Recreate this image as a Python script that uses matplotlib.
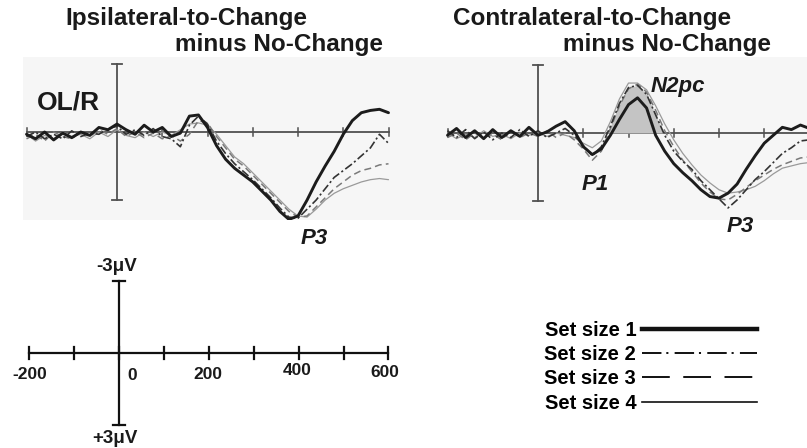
import numpy as np
import matplotlib
matplotlib.use("Agg")
from matplotlib import pyplot as plt
from matplotlib.lines import Line2D
from matplotlib.patches import Rectangle

plt.rcParams['font.family'] = ['Liberation Sans', 'DejaVu Sans']
plt.rcParams['font.weight'] = 'bold'
plt.rcParams['lines.scale_dashes'] = False

# time axis of the waveforms (ms), one value every 20 ms
times = np.arange(-200, 601, 20)

# ipsilateral-to-change minus no-change (uV, positive plotted downward)
ipsi_ss1 = [0.1, 0.3, 0.0, 0.35, 0.05, 0.25, 0.0, 0.15, -0.2, -0.1, -0.35, -0.1, 0.1, -0.3, 0.0,
            -0.2, 0.2, 0.05, -0.7, -0.75, -0.2, 0.6, 1.2, 1.6, 1.9, 2.2, 2.6, 3.0, 3.5, 3.85,
            3.7, 3.0, 2.2, 1.5, 0.85, 0.1, -0.5, -0.85, -0.95, -1.0, -0.85]
ipsi_ss2 = [0.2, 0.0, 0.3, 0.1, 0.3, -0.05, 0.2, 0.05, 0.1, -0.15, -0.25, 0.1, -0.1, 0.15, -0.15,
            0.2, 0.3, 0.65, -0.3, -0.7, -0.35, 0.4, 0.95, 1.4, 1.75, 2.1, 2.5, 2.9, 3.35, 3.75,
            3.8, 3.4, 3.0, 2.5, 2.0, 1.7, 1.4, 1.05, 0.7, 0.1, 0.5]
ipsi_ss3 = [0.3, 0.1, 0.4, 0.0, 0.2, 0.3, 0.0, 0.2, -0.1, 0.1, -0.15, 0.2, 0.0, 0.25, 0.05,
            0.3, 0.15, 0.4, 0.1, -0.5, -0.4, 0.2, 0.7, 1.2, 1.5, 1.9, 2.3, 2.7, 3.1, 3.5,
            3.75, 3.7, 3.3, 2.9, 2.5, 2.2, 1.9, 1.7, 1.6, 1.45, 1.4]
ipsi_ss4 = [0.1, 0.4, 0.15, 0.3, 0.0, 0.2, 0.1, 0.3, 0.0, 0.2, -0.1, 0.15, 0.25, 0.0, 0.2,
            0.0, 0.15, -0.1, -0.35, -0.4, -0.3, 0.1, 0.6, 1.1, 1.4, 1.8, 2.2, 2.6, 3.0, 3.4,
            3.7, 3.75, 3.4, 3.0, 2.7, 2.5, 2.35, 2.2, 2.1, 2.05, 2.1]

# contralateral-to-change minus no-change
contra_ss1 = [0.1, -0.2, 0.2, -0.1, 0.25, -0.15, 0.2, -0.1, 0.15, -0.25, 0.1, -0.05, -0.3, -0.5, -0.1,
              0.6, 0.95, 0.7, 0.1, -0.6, -1.25, -1.55, -1.1, 0.1, 0.8, 1.35, 1.75, 2.1, 2.5, 2.8,
              2.87, 2.65, 2.25, 1.6, 1.0, 0.45, 0.1, -0.25, -0.15, -0.35, -0.2]
contra_ss2 = [-0.1, 0.2, -0.15, 0.25, -0.05, 0.3, 0.0, 0.2, -0.15, 0.15, -0.1, 0.2, 0.0, -0.2, 0.1,
              0.55, 1.0, 0.6, -0.3, -1.3, -2.0, -2.1, -1.7, -0.8, 0.1, 0.8, 1.25, 1.6, 2.1, 2.5,
              2.9, 3.3, 2.95, 2.5, 2.05, 1.7, 1.3, 0.9, 0.65, 0.35, 0.3]
contra_ss3 = [0.2, 0.0, 0.3, 0.0, 0.2, 0.05, 0.3, -0.1, 0.2, 0.0, 0.15, -0.1, 0.2, 0.0, 0.3,
              0.7, 1.2, 0.8, -0.2, -1.2, -1.95, -2.15, -1.8, -1.0, -0.1, 0.6, 1.2, 1.7, 2.2, 2.6,
              2.9, 2.95, 2.7, 2.4, 2.1, 1.85, 1.6, 1.4, 1.25, 1.1, 1.05]
contra_ss4 = [0.0, 0.25, 0.05, 0.2, -0.1, 0.15, 0.05, 0.25, 0.0, 0.1, 0.0, 0.15, 0.0, 0.1, 0.2,
              0.45, 0.65, 0.35, -0.5, -1.5, -2.2, -2.2, -1.9, -1.2, -0.4, 0.3, 0.9, 1.4, 1.85, 2.2,
              2.5, 2.65, 2.6, 2.5, 2.35, 2.1, 1.8, 1.55, 1.45, 1.35, 1.3]

set_labels = ['Set size 1', 'Set size 2', 'Set size 3', 'Set size 4']
panel_ticks = [-200, 100, 200, 300, 400, 500, 600]
scale_ticks = [-200, -100, 0, 100, 200, 300, 400, 500, 600]
scale_labels = ['-200', '0', '200', '400', '600']
scale_label_at = [-200, 0, 200, 400, 600]
n2pc_window = (140, 280)

W, H = 807, 448
fig = plt.figure(figsize=(W / 100, H / 100), dpi=100)

def px_axes(left, top, right, bottom):
    ax = fig.add_axes([left / W, 1 - bottom / H, (right - left) / W, (bottom - top) / H])
    ax.patch.set_alpha(0)
    ax.axis('off')
    return ax

# light gray band behind both panels
fig.patches.append(Rectangle((23 / W, 1 - 220 / H), (807 - 23) / W, (220 - 57) / H,
                             transform=fig.transFigure, facecolor='#f6f6f6', edgecolor='none', zorder=-5))

panel_styles = [dict(color='#1c1c1c', lw=2.1, ls='-'),
                dict(color='#333333', lw=1.2, ls=(0, (6, 2, 1.5, 2))),
                dict(color='#7a7a7a', lw=1.1, ls=(0, (5, 3))),
                dict(color='#9a9a9a', lw=0.9, ls='-')]

def draw_panel(ax, series, axis_col='#505050'):
    ax.plot([times[0], times[-1]], [0, 0], color=axis_col, lw=1.3, zorder=1)
    for t in panel_ticks:
        ax.plot([t, t], [-0.18, 0.18], color=axis_col, lw=1.1, zorder=1)
    ax.plot([0, 0], [-3, 3], color=axis_col, lw=1.3, zorder=1)
    for v in (-3, 3):
        ax.plot([-11, 11], [v, v], color=axis_col, lw=1.3, zorder=1)
    for vals, st in reversed(list(zip(series, panel_styles))):
        ax.plot(times, vals, zorder=3, solid_capstyle='round', **st)

ax1 = px_axes(23, 57, 430, 220)
ax1.set_xlim((23 - 117) / 0.4525, (430 - 117) / 0.4525)
ax1.set_ylim((220 - 132) / 22.7, (57 - 132) / 22.7)
draw_panel(ax1, [ipsi_ss1, ipsi_ss2, ipsi_ss3, ipsi_ss4])

ax2 = px_axes(430, 57, 807, 220)
ax2.set_xlim((430 - 538) / 0.4525, (807 - 538) / 0.4525)
ax2.set_ylim((220 - 133) / 22.7, (57 - 133) / 22.7)
c2 = np.array(contra_ss2)
win = (times >= n2pc_window[0]) & (times <= n2pc_window[1])
ax2.fill_between(times, 0, c2, where=win & (c2 < 0), interpolate=True,
                 color='#c4c4c4', lw=0, zorder=2)
draw_panel(ax2, [contra_ss1, contra_ss2, contra_ss3, contra_ss4])

# component labels
lab = dict(fontsize=16, fontweight='bold', style='italic', ha='center', va='center', color='#1a1a1a')
ax1.text(435, 4.67, 'P3', **lab)
ax2.text(309, -2.07, 'N2pc', **lab)
ax2.text(126, 2.29, 'P1', **lab)
ax2.text(446, 4.1, 'P3', **lab)

# titles
tk = dict(fontsize=17.5, fontweight='bold', va='center', ha='left', color='#1a1a1a')
fig.text(65 / W, 1 - 18 / H, 'Ipsilateral-to-Change', **tk)
fig.text(175 / W, 1 - 45 / H, 'minus No-Change', **tk)
fig.text(453 / W, 1 - 18 / H, 'Contralateral-to-Change', **tk)
fig.text(563 / W, 1 - 45 / H, 'minus No-Change', **tk)
fig.text(37 / W, 1 - 102 / H, 'OL/R', fontsize=19, fontweight='bold', va='center', ha='left', color='#1a1a1a')

# calibration scale
ax3 = px_axes(0, 250, 420, 448)
ax3.set_xlim((0 - 119) / 0.449, (420 - 119) / 0.449)
ax3.set_ylim((448 - 353) / 24, (250 - 353) / 24)
ax3.plot([scale_ticks[0], scale_ticks[-1]], [0, 0], color='#111111', lw=1.6)
for t in scale_ticks:
    ax3.plot([t, t], [-0.25, 0.25], color='#111111', lw=1.6)
ax3.plot([0, 0], [-3, 3], color='#111111', lw=1.6)
for v in (-3, 3):
    ax3.plot([-13, 13], [v, v], color='#111111', lw=1.6)
sk = dict(fontsize=12.5, fontweight='bold', ha='center', va='center', color='#1a1a1a')
label_shift = {-200: (2, 0.9), 0: (29, 0.95), 200: (-2, 0.9), 400: (-3, 0.74), 600: (-7, 0.82)}
for t, s in zip(scale_label_at, scale_labels):
    dx, y = label_shift[t]
    ax3.text(t + dx, y, s, **sk)
ax3.text(-5, -3.6, '-3\u03bcV', fontsize=13.5, fontweight='bold', ha='center', va='center', color='#1a1a1a')
ax3.text(-10, 3.55, '+3\u03bcV', fontsize=13.5, fontweight='bold', ha='center', va='center', color='#1a1a1a')

# legend
handles = [Line2D([], [], color='#111111', lw=3.2),
           Line2D([], [], color='#111111', lw=1.4, ls=(0, (14, 3.5, 1.5, 4.5))),
           Line2D([], [], color='#111111', lw=1.4, ls=(0, (20, 9.7))),
           Line2D([], [], color='#111111', lw=1.2)]
fig.legend(handles, set_labels, loc='upper right', bbox_to_anchor=(757 / W, 1 - 321 / H),
           frameon=False, markerfirst=False, handlelength=5.7, handletextpad=0.3,
           labelspacing=0.26, borderpad=0, borderaxespad=0,
           prop=dict(family='Liberation Sans', weight='bold', size=14.5))

fig.savefig('out.png', dpi=100)
